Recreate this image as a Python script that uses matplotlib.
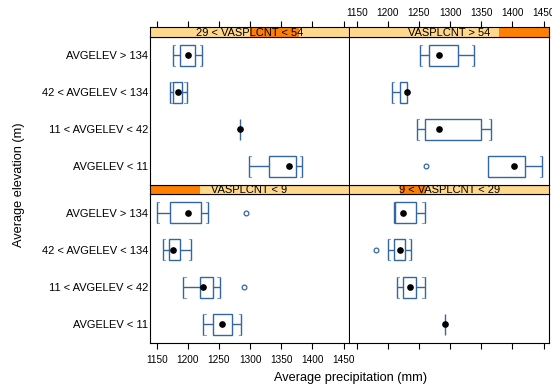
import matplotlib

matplotlib.use("Agg")
import matplotlib.pyplot as plt
from matplotlib.patches import Rectangle

plt.rcParams["font.family"] = ["Liberation Sans", "DejaVu Sans"]

# ---- data -----------------------------------------------------------------
elev_levels = ["AVGELEV < 11", "11 < AVGELEV < 42", "42 < AVGELEV < 134", "AVGELEV > 134"]
panel_names = ["VASPLCNT < 9", "9 < VASPLCNT < 29", "29 < VASPLCNT < 54", "VASPLCNT > 54"]
shingle_lo = [0.0, 0.25, 0.50, 0.75]
shingle_hi = [0.25, 0.38, 0.75, 1.0]

# per panel, one value per elevation level (bottom to top)
whisk_lo = [
    [1225, 1193, 1160, 1150],
    [1292, 1214, 1200, 1210],
    [1298, 1283, 1171, 1176],
    [1361, 1247, 1206, 1251],
]
box_q1 = [
    [1241, 1219, 1170, 1172],
    [1292, 1224, 1210, 1212],
    [1331, 1283, 1176, 1188],
    [1361, 1260, 1219, 1266],
]
box_med = [
    [1255, 1224, 1176, 1201],
    [1292, 1236, 1219, 1225],
    [1363, 1283, 1184, 1200],
    [1403, 1282, 1230, 1282],
]
box_q3 = [
    [1271, 1241, 1187, 1221],
    [1292, 1245, 1227, 1245],
    [1374, 1283, 1191, 1211],
    [1420, 1350, 1231, 1312],
]
whisk_hi = [
    [1286, 1251, 1205, 1233],
    [1292, 1259, 1238, 1259],
    [1383, 1283, 1198, 1223],
    [1447, 1366, 1231, 1339],
]
# (level index, value) pairs
outliers = [
    [(1, 1290), (3, 1293)],
    [(2, 1181)],
    [],
    [(0, 1261)],
]

x_ticks = [1150, 1200, 1250, 1300, 1350, 1400, 1450]

# ---- layout ---------------------------------------------------------------
W, H = 552, 387
XLIM = (1138.8, 1459.2)
BOX_COL = "#3466A3"
STRIP_LIGHT = "#FFD88C"
STRIP_DARK = "#FF8000"
XTICK_FS = 7.2
YTICK_FS = 8.0
STRIP_FS = 8.0
LABEL_FS = 9.2

col_x = [149.7, 349.7]
panel_w = 199.6
# (top, bottom) pixel rows for panel and strip
rows_px = {
    "bottom": {"strip": (185.0, 194.0), "panel": (194.0, 343.0)},
    "top": {"strip": (27.3, 36.7), "panel": (36.7, 185.0)},
}
panel_pos = [("bottom", 0), ("bottom", 1), ("top", 0), ("top", 1)]


def fig_rect(x0, top, bottom):
    return [x0 / W, 1 - bottom / H, panel_w / W, (bottom - top) / H]


def draw_box(ax, y, lo, q1, med, q3, hi, half=0.28, stub=3.5):
    kw = dict(color=BOX_COL, lw=1.0, solid_capstyle="butt")
    ax.add_patch(Rectangle((q1, y - half), q3 - q1, 2 * half, fill=False,
                           edgecolor=BOX_COL, lw=1.0))
    ax.plot([lo, q1], [y, y], **kw)
    ax.plot([q3, hi], [y, y], **kw)
    for end, d in ((lo, stub), (hi, -stub)):
        if (d > 0 and end < q1) or (d < 0 and end > q3):
            ax.plot([end, end], [y - half, y + half], **kw)
            ax.plot([end, end + d], [y + half, y + half], color=BOX_COL, lw=0.8, alpha=0.6)
            ax.plot([end, end + d], [y - half, y - half], color=BOX_COL, lw=0.8, alpha=0.6)
    ax.plot([med], [y], "o", color="black", ms=3.8, zorder=5)


fig = plt.figure(figsize=(W / 100, H / 100), dpi=100)

for p, (row, col) in enumerate(panel_pos):
    st, sb = rows_px[row]["strip"]
    pt, pb = rows_px[row]["panel"]
    ax = fig.add_axes(fig_rect(col_x[col], pt, pb))
    sax = fig.add_axes(fig_rect(col_x[col], st, sb))

    for i in range(len(elev_levels)):
        draw_box(ax, i + 1, whisk_lo[p][i], box_q1[p][i], box_med[p][i],
                 box_q3[p][i], whisk_hi[p][i])
    for lvl, val in outliers[p]:
        ax.plot([val], [lvl + 1], "o", mfc="white", mec=BOX_COL, ms=3.4, mew=0.9)

    ax.set_xlim(*XLIM)
    ax.set_ylim(0.5, len(elev_levels) + 0.5)
    ax.set_yticks(range(1, len(elev_levels) + 1))
    if col == 0:
        ax.set_yticklabels(elev_levels, fontsize=YTICK_FS)
    else:
        ax.set_yticklabels([])
    ax.tick_params(axis="y", length=0, pad=1)
    ax.set_xticks(x_ticks)
    if row == "bottom":
        ax.tick_params(axis="x", direction="out", length=4, width=0.8, pad=4.5,
                       labelsize=XTICK_FS, labelbottom=(col == 0))
    else:
        ax.tick_params(axis="x", length=0, labelbottom=False)
    for s in ax.spines.values():
        s.set_linewidth(0.8)
    if col == 1:
        ax.spines["left"].set_visible(False)

    # strip with shingle range
    sax.set_xlim(*XLIM)
    sax.set_ylim(0, 1)
    sax.set_facecolor(STRIP_LIGHT)
    sax.add_patch(Rectangle((shingle_lo[p], 0), shingle_hi[p] - shingle_lo[p], 1,
                            transform=sax.transAxes, color=STRIP_DARK, lw=0))
    sax.text(0.5, 0.1, panel_names[p], transform=sax.transAxes, ha="center",
             va="baseline", fontsize=STRIP_FS)
    sax.set_yticks([])
    if row == "top":
        sax.set_xticks(x_ticks)
        sax.tick_params(axis="x", direction="out", length=4, width=0.8, pad=3,
                        labelsize=XTICK_FS, bottom=False, labelbottom=False,
                        top=True, labeltop=(col == 1))
    else:
        sax.set_xticks([])
    for s in sax.spines.values():
        s.set_linewidth(0.8)
    if col == 1:
        sax.spines["left"].set_visible(False)

fig.text(351 / W, 1 - 378 / H, "Average precipitation (mm)", ha="center",
         va="center", fontsize=LABEL_FS)
fig.text(19 / W, 1 - 185 / H, "Average elevation (m)", ha="center",
         va="center", rotation=90, fontsize=LABEL_FS)

fig.savefig("out.png", dpi=100)
